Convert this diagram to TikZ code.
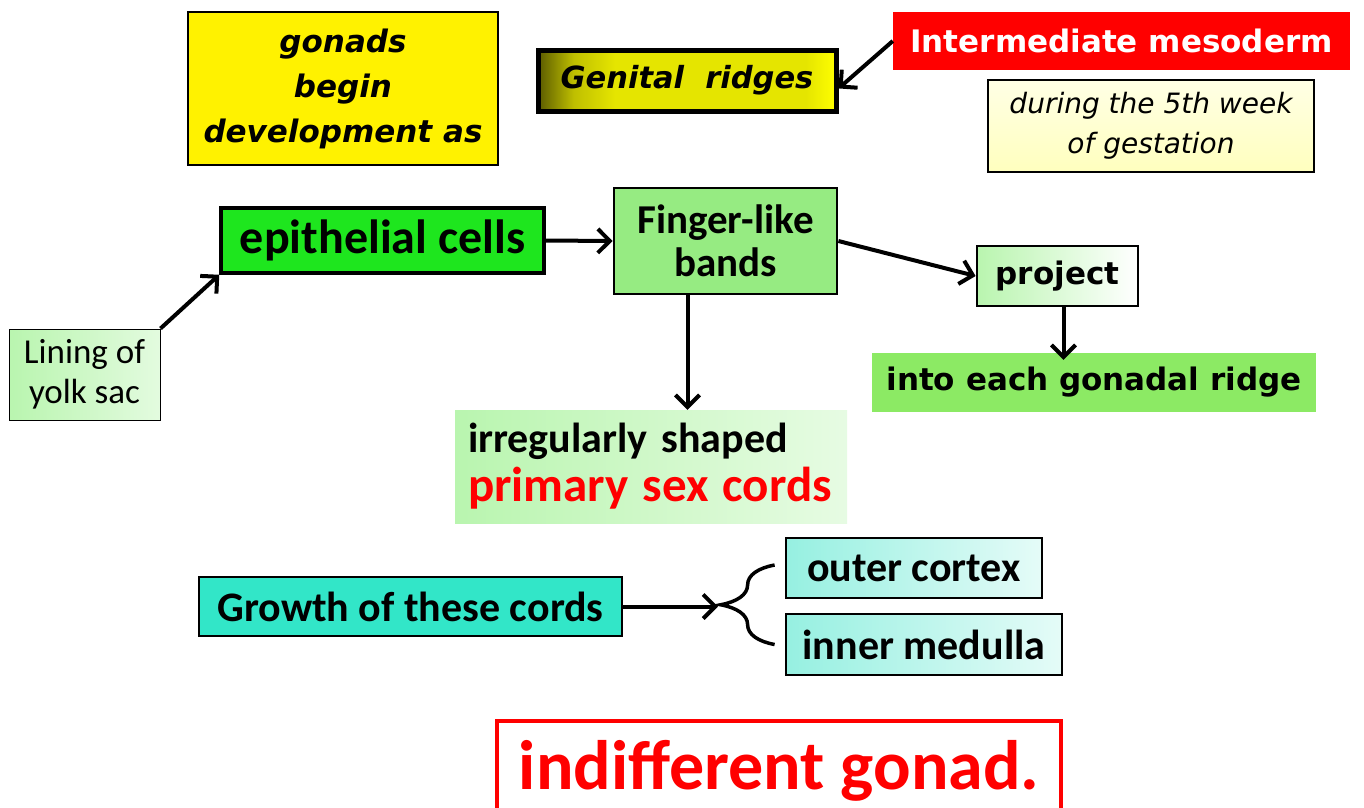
\documentclass[tikz,border=0pt]{standalone}
\usepackage{fontspec}
\usepackage{tikz}
\usetikzlibrary{positioning,arrows.meta,calc,decorations.pathreplacing}
\newfontfamily\calib{Carlito}
\newfontfamily\verd{DejaVu Sans}
\newcommand{\fs}[2]{\fontsize{#1}{#2}\selectfont}
\definecolor{gdark}{RGB}{90,90,0}
\definecolor{wkyel}{RGB}{255,255,190}
\definecolor{epig}{RGB}{30,230,30}
\definecolor{fing}{RGB}{150,235,130}
\definecolor{intog}{RGB}{140,234,100}
\definecolor{paleg}{RGB}{185,245,175}
\definecolor{turq}{RGB}{50,230,200}
\definecolor{palec}{RGB}{150,240,225}
\pgfdeclarehorizontalshading{genshade}{100bp}{color(0bp)=(gdark); color(25bp)=(gdark);
  color(31bp)=(yellow!75!black); color(38bp)=(yellow!90!black); color(70bp)=(yellow!90!black);
  color(75bp)=(yellow); color(100bp)=(yellow)}

\begin{document}
\begin{tikzpicture}[
  x=1pt, y=-1pt,
  bx/.style={draw=black, line width=2.8pt, inner sep=0pt, align=center},
  vb/.style={font=\verd\bfseries\fs{31}{36}},
  cb/.style={font=\calib\bfseries\fs{42}{44}},
  arr/.style={-{Straight Barb[length=12pt,width=24pt]}, line width=4pt, black}
]
\useasboundingbox (0,0) rectangle (1364,807);
% top row
\node[bx, fill=yellow, minimum width=310, minimum height=153,
      font=\verd\bfseries\itshape\fs{31}{45}] (gonads) at (343,88.5) {gonads\\begin\\development as};
\node[bx, line width=5pt, shade, shading=genshade, minimum width=298, minimum height=61,
      font=\verd\bfseries\itshape\fs{30.5}{36}] (genital) at (687,80.5) {Genital\ \ ridges};
\node[fill=red, text=white, inner sep=0pt, minimum width=457, minimum height=58, vb] (inter) at (1121.5,41) {Intermediate mesoderm};
\node[bx, top color=white!60!wkyel, bottom color=wkyel, minimum width=326, minimum height=92,
      font=\verd\itshape\fs{28}{40}] (week) at (1151,126) {during the 5th week\\of gestation};
% middle
\node[bx, line width=3.5pt, fill=epig, minimum width=323, minimum height=65, font=\calib\bfseries\fs{48}{50}] (epi) at (382.5,240.5) {epithelial cells};
\node[bx, fill=fing, minimum width=223, minimum height=106, font=\calib\bfseries\fs{41}{43}] (finger) at (725.5,241) {Finger-like\\bands};
\node[bx, left color=paleg, right color=white, minimum width=161, minimum height=60, vb] (project) at (1057.5,276) {project};
\node[fill=intog, inner sep=0pt, minimum width=444, minimum height=59, vb] (into) at (1094,382.5) {into each gonadal ridge};
\node[bx, line width=1pt, left color=paleg, right color=paleg!40!white, minimum width=151, minimum height=91,
      font=\calib\fs{35}{40}] (lining) at (84.5,374.5) {Lining of\\yolk sac};
\node[left color=paleg, right color=paleg!35!white, inner xsep=13pt, inner ysep=0pt, text width=366pt,
      minimum height=113, align=left, font=\calib\bfseries\fs{42}{49}] (irreg) at (651,466.5)
      {irregularly shaped\\{\color{red}\fs{49}{49}primary sex cords}};
% bottom
\node[bx, fill=turq, minimum width=423, minimum height=59, cb] (growth) at (410.5,606.5) {Growth of these cords};
\node[bx, left color=palec, right color=palec!25!white, minimum width=256, minimum height=60, cb] (outer) at (914,568) {outer cortex};
\node[bx, left color=palec, right color=palec!25!white, minimum width=276, minimum height=61, cb] (inner) at (924,644.5) {inner medulla};
\node[draw=red, line width=3.5pt, fill=white, text=red, inner sep=0pt, minimum width=564, minimum height=100,
      font=\calib\bfseries\fs{70}{72}] (indiff) at (779,771) {indifferent gonad.};
% connectors
\coordinate (brace) at (718,606.5);
\draw[line width=3.5pt, decorate, decoration={brace, amplitude=54pt}]
  ($(inner.west)+(-10,0)$) -- ($(outer.west)+(-10,-3)$);
\foreach \a/\b in {epi.east/finger.west, finger.east/project.west, lining.north east/epi.south west,
                   inter.west/genital.-3, growth.east/brace}
  \draw[arr] (\a) -- (\b);
\draw[arr] ([xshift=-38pt]finger.south) -- ([xshift=-38pt]finger.south |- irreg.north);
\draw[arr] ([xshift=6pt]project.south) -- ([xshift=6pt,yshift=-7pt]project.south |- into.north);
\end{tikzpicture}
\end{document}
